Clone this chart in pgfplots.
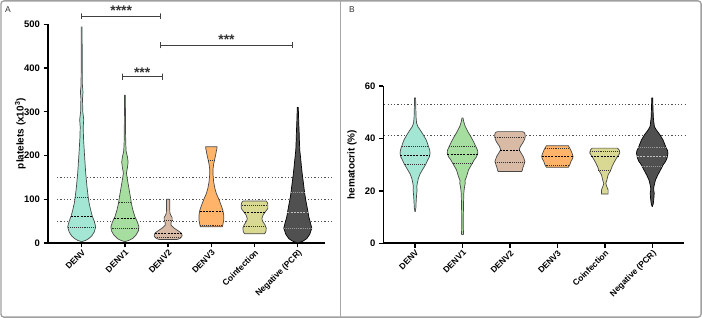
\documentclass[border=0pt]{standalone}
\usepackage{pgfplots}
\pgfplotsset{compat=1.18}
\usepackage{pgfplotstable}
\usepackage{fontspec}
\setmainfont{Liberation Sans}

\definecolor{cDENV}{HTML}{A3E6D3}
\definecolor{cDENVa}{HTML}{A5DE9F}
\definecolor{cDENVb}{HTML}{D9BBA5}
\definecolor{cDENVc}{HTML}{FFB46A}
\definecolor{cCoinf}{HTML}{D9D993}
\definecolor{cNeg}{HTML}{505050}
\definecolor{edge}{HTML}{484848}
\definecolor{framegray}{HTML}{A0A0A0}
\definecolor{refgray}{HTML}{505050}

% violin: {centre}{width factor}{fill}{outline}{profile table (v = value, w = half-width)}
\newcommand{\violin}[5]{%
  \addplot[fill=#3, draw=none] table[x expr={#1+#2*\thisrow{w}}, y=v]{#5};
  \addplot[fill=#3, draw=none] table[x expr={#1-#2*\thisrow{w}}, y=v]{#5};
  \addplot[draw=#3, line width=0.8bp] table[x expr={#1}, y=v]{#5};
  \addplot[draw=#4, line width=0.7bp] table[x expr={#1+#2*\thisrow{w}}, y=v]{#5};
  \addplot[draw=#4, line width=0.7bp] table[x expr={#1-#2*\thisrow{w}}, y=v]{#5};
}

\pgfplotsset{
  violinaxis/.style={
    scale only axis, clip=false, axis lines=left,
    axis line style={-, line width=1.6bp, black},
    tick align=outside, major tick length=4.5bp,
    tick style={line width=1.4bp, black},
    xtick={0,1,2,3,4,5},
    xticklabels={DENV,DENV1,DENV2,DENV3,Coinfection,Negative (PCR)},
    x tick label style={rotate=45, anchor=north east, inner sep=1bp,
      font=\bfseries\fontsize{8.5}{9}\selectfont},
    y tick label style={font=\bfseries\fontsize{9.5}{10}\selectfont},
    /pgf/number format/assume math mode=true,
    ylabel style={font=\bfseries\fontsize{10}{12}\selectfont, anchor=center},
    no markers,
  },
  refline/.style={refgray, line width=1.2bp, dash pattern=on 1.2bp off 2.1bp},
  med/.style={black, line width=0.7bp, dash pattern=on 2bp off 1.2bp},
  qrt/.style={black!80, line width=0.55bp, dash pattern=on 0.8bp off 1.1bp},
  bracket/.style={black!75, line width=0.9bp},
}

% ---------------- platelets (x10^3) ----------------
\pgfplotstableread[row sep=\\]{
v w\\ 3 0\\ 6 4\\ 10 7\\ 16 10\\ 25 12.5\\ 37 14\\ 50 12.5\\ 62 10.5\\ 75 9\\ 90 7.5\\
105 6.5\\ 128 5.3\\ 160 4\\ 205 2.7\\ 240 1.8\\ 265 1.5\\ 282 2.0\\ 300 1.1\\ 330 0.8\\
345 1.3\\ 360 0.7\\ 400 0.5\\ 494 0.4\\ 494 0\\
}\pA

\pgfplotstableread[row sep=\\]{
v w\\ 3 0\\ 6 4\\ 10 7.5\\ 18 11\\ 28 13.5\\ 37 14\\ 48 12.5\\ 60 10\\ 75 8\\ 90 6.5\\
105 5.5\\ 125 4\\ 145 2.5\\ 160 1.5\\ 172 2.5\\ 185 3.2\\ 197 2.5\\ 210 1.2\\ 230 0.8\\
260 0.6\\ 300 0.5\\ 338 0.4\\ 338 0\\
}\pB

\pgfplotstableread[row sep=\\]{
v w\\ 8 0\\ 8 9\\ 10 11.5\\ 14 13.5\\ 18 14\\ 23 13\\ 28 10\\ 34 6\\ 41 2.8\\ 47 3\\
53 4\\ 58 4\\ 63 2.8\\ 68 1.8\\ 75 1.7\\ 90 1.7\\ 100 1.7\\ 100 0\\
}\pC

\pgfplotstableread[row sep=\\]{
v w\\ 37 0\\ 37 11\\ 42 11.5\\ 52 12.3\\ 64 12.3\\ 75 11.5\\ 85 10\\ 100 7.5\\ 113 5\\
125 3.5\\ 140 2.3\\ 155 1.7\\ 170 1.7\\ 180 2.3\\ 190 3.2\\ 200 4.2\\ 210 5\\ 215 5.5\\
220 5.7\\ 220 0\\
}\pD

\pgfplotstableread[row sep=\\]{
v w\\ 21 0\\ 21 10\\ 26 11.3\\ 34 11.7\\ 42 10.3\\ 50 8\\ 56 7.3\\ 64 8.5\\ 72 11\\
79 13.3\\ 88 13.3\\ 93 12.7\\ 96 11.5\\ 96 0\\
}\pE

\pgfplotstableread[row sep=\\]{
v w\\ 0 0\\ 4 5\\ 10 9\\ 20 12\\ 34 14\\ 45 12.8\\ 60 11\\ 80 9.5\\ 98 8\\ 115 6.8\\
136 5.7\\ 155 4.6\\ 174 3.7\\ 195 2.8\\ 212 2\\ 235 1.6\\ 251 1.4\\ 280 0.9\\ 310 0.5\\
310 0\\
}\pF

% ---------------- hematocrit (%) ----------------
\pgfplotstableread[row sep=\\]{
v w\\ 12 0\\ 13.5 0.8\\ 15.3 1.0\\ 18 1.4\\ 20.4 2.0\\ 21.6 1.7\\ 23 2.3\\ 24.8 3.3\\
26.5 5\\ 28 7.3\\ 30 10.5\\ 31.8 12.7\\ 33 14.3\\ 34.4 15\\ 35.5 14.6\\ 36.3 14\\
38 12.5\\ 39.5 11\\ 41.5 8\\ 43.3 5\\ 44.5 2.8\\ 45.9 1.5\\ 48 1\\ 52 0.7\\ 55.4 0.5\\
55.4 0\\
}\hA

\pgfplotstableread[row sep=\\]{
v w\\ 3.2 0\\ 3.5 1\\ 6 0.8\\ 10 0.8\\ 15 1\\ 19.1 1.3\\ 21 1.8\\ 22.9 2.7\\ 24 2.5\\
25.4 4\\ 28 6\\ 30 9\\ 31.8 11.7\\ 33 14\\ 34.4 15.3\\ 35.5 15\\ 36.9 13.3\\ 38.8 11\\
40.7 8.3\\ 42.5 5.5\\ 44.6 2.7\\ 46.3 1.3\\ 47.8 0.5\\ 47.8 0\\
}\hB

\pgfplotstableread[row sep=\\]{
v w\\ 27.4 0\\ 27.4 11.7\\ 28 12.5\\ 28.7 12.8\\ 30 14\\ 31.2 15\\ 33.1 13.3\\ 34.5 11\\
35.7 9.3\\ 37 10.5\\ 38.2 12.7\\ 39.5 14.5\\ 40.7 15.3\\ 41.8 15\\ 42.4 14\\ 42.6 12\\
42.6 0\\
}\hC

\pgfplotstableread[row sep=\\]{
v w\\ 29 0\\ 29 11\\ 30 12.5\\ 31.2 13.5\\ 32.2 15\\ 33.1 15.7\\ 34 15\\ 35 14\\
36.2 12.5\\ 37.2 11\\ 37.2 0\\
}\hD

\pgfplotstableread[row sep=\\]{
v w\\ 18.8 0\\ 18.8 3.3\\ 20.4 3.3\\ 21.8 1.8\\ 22.9 1\\ 24 2\\ 26.1 3.3\\ 27.5 5.5\\
29.3 7.3\\ 31 9.5\\ 32.5 11.7\\ 33.5 13.5\\ 34.4 15\\ 35.5 14.5\\ 36.3 12.7\\ 36.3 0\\
}\hE

\pgfplotstableread[row sep=\\]{
v w\\ 14 0\\ 15 1\\ 17 1.6\\ 19.1 2\\ 20.5 1.4\\ 21.6 1.7\\ 23 2.5\\ 24.2 3.3\\ 26 5.5\\
28 8.3\\ 30 11\\ 31.2 13.3\\ 32.5 14.8\\ 34.4 15.7\\ 35.5 15.2\\ 36.3 14\\ 38 12.3\\
39.5 10.7\\ 41.5 7.5\\ 43.3 4\\ 44.5 2.2\\ 45.9 1.7\\ 48 1.1\\ 52 0.7\\ 55.4 0.5\\
55.4 0\\
}\hF

\begin{document}
\begin{tikzpicture}
\useasboundingbox (0,0) rectangle (702bp,318bp);

% ===== A: platelets =====
\begin{axis}[violinaxis,
  at={(48bp,75bp)}, anchor=south west,
  width=277bp, height=218.7bp,
  xmin=-0.78, xmax=5.63, ymin=0, ymax=500,
  ytick={0,100,200,300,400,500},
  ylabel={platelets (x10\textsuperscript{3})},
  ylabel style={at={(axis description cs:-0.1,0.5)}},
]
\addplot[refline] coordinates {(-0.57,50) (5.82,50)};
\addplot[refline] coordinates {(-0.57,100) (5.82,100)};
\addplot[refline] coordinates {(-0.57,150) (5.82,150)};

\violin{0}{0.02315}{cDENV}{edge}{\pA}
\violin{1}{0.02315}{cDENVa}{edge}{\pB}
\violin{2}{0.02315}{cDENVb}{edge}{\pC}
\violin{3}{0.02315}{cDENVc}{edge}{\pD}
\violin{4}{0.02315}{cCoinf}{edge}{\pE}
\violin{5}{0.02315}{cNeg}{black}{\pF}

% medians and quartiles
\addplot[med] coordinates {(-0.25,60) (0.25,60)};
\addplot[qrt] coordinates {(-0.31,35) (0.31,35)};
\addplot[qrt] coordinates {(-0.15,104) (0.15,104)};
\addplot[med] coordinates {(0.75,56) (1.25,56)};
\addplot[qrt] coordinates {(0.69,33) (1.31,33)};
\addplot[qrt] coordinates {(0.855,93) (1.145,93)};
\addplot[med] coordinates {(1.69,22) (2.31,22)};
\addplot[qrt] coordinates {(1.70,13) (2.30,13)};
\addplot[qrt] coordinates {(1.91,52) (2.09,52)};
\addplot[med] coordinates {(2.73,73) (3.27,73)};
\addplot[qrt] coordinates {(2.74,40) (3.26,40)};
\addplot[qrt] coordinates {(2.93,188) (3.07,188)};
\addplot[med] coordinates {(3.76,70) (4.24,70)};
\addplot[qrt] coordinates {(3.75,39) (4.25,39)};
\addplot[qrt] coordinates {(3.70,87) (4.30,87)};
\addplot[med, white!75!black] coordinates {(4.76,69) (5.24,69)};
\addplot[qrt, white!60!black] coordinates {(4.69,33) (5.31,33)};
\addplot[qrt, white!60!black] coordinates {(4.845,115) (5.155,115)};

% significance brackets
\addplot[bracket] coordinates {(0,511) (0,525) (0,518) (1.83,518) (1.83,525) (1.83,511)};
\addplot[bracket] coordinates {(1.83,445) (1.83,459) (1.83,452) (4.87,452) (4.87,459) (4.87,445)};
\addplot[bracket] coordinates {(0.95,373) (0.95,387) (0.95,380) (1.86,380) (1.86,387) (1.86,373)};
\node[font=\bfseries\fontsize{14}{14}\selectfont, text=black!80] at (axis cs:0.915,530) {****};
\node[font=\bfseries\fontsize{14}{14}\selectfont, text=black!80] at (axis cs:3.35,465) {***};
\node[font=\bfseries\fontsize{14}{14}\selectfont, text=black!80] at (axis cs:1.40,390) {***};
\end{axis}

% ===== B: hematocrit =====
\begin{axis}[violinaxis,
  at={(383.3bp,74.7bp)}, anchor=south west,
  width=300.7bp, height=157.3bp,
  xmin=-0.67, xmax=5.67, ymin=0, ymax=60,
  ytick={0,20,40,60},
  ylabel={hematocrit (\%)},
  ylabel style={at={(axis description cs:-0.104,0.5)}},
]
\addplot[refline] coordinates {(-0.65,53) (5.72,53)};
\addplot[refline] coordinates {(-0.65,41) (5.72,41)};

\violin{0}{0.0211}{cDENV}{edge}{\hA}
\violin{1}{0.0211}{cDENVa}{edge}{\hB}
\violin{2}{0.0211}{cDENVb}{edge}{\hC}
\violin{3}{0.0211}{cDENVc}{edge}{\hD}
\violin{4}{0.0211}{cCoinf}{edge}{\hE}
\violin{5}{0.0211}{cNeg}{black}{\hF}

\addplot[med] coordinates {(-0.31,33.5) (0.31,33.5)};
\addplot[qrt] coordinates {(-0.22,30) (0.22,30)};
\addplot[qrt] coordinates {(-0.28,37) (0.28,37)};
\addplot[med] coordinates {(0.68,34) (1.32,34)};
\addplot[qrt] coordinates {(0.79,30.5) (1.21,30.5)};
\addplot[qrt] coordinates {(0.72,37) (1.28,37)};
\addplot[med] coordinates {(1.79,35.5) (2.21,35.5)};
\addplot[qrt] coordinates {(1.69,31) (2.31,31)};
\addplot[qrt] coordinates {(1.68,40.5) (2.32,40.5)};
\addplot[med] coordinates {(2.67,33) (3.33,33)};
\addplot[qrt] coordinates {(2.75,29.8) (3.25,29.8)};
\addplot[qrt] coordinates {(2.74,36.3) (3.26,36.3)};
\addplot[med] coordinates {(3.71,33) (4.29,33)};
\addplot[qrt] coordinates {(3.86,28) (4.14,28)};
\addplot[qrt] coordinates {(3.69,35) (4.31,35)};
\addplot[med, white!75!black] coordinates {(4.68,33) (5.32,33)};
\addplot[qrt, white!60!black] coordinates {(4.78,29.5) (5.22,29.5)};
\addplot[qrt, white!60!black] coordinates {(4.71,36.5) (5.29,36.5)};
\end{axis}

% panel frame, divider and letters
\draw[framegray, line width=1.3bp, rounded corners=3bp] (0.9bp,0.9bp) rectangle (701.1bp,317.1bp);
\draw[black!35, line width=0.8bp] (340bp,1bp) -- (340bp,317bp);
\node[font=\fontsize{8.5}{9}\selectfont, text=black!80] at (8bp,308bp) {A};
\node[font=\fontsize{8.5}{9}\selectfont, text=black!80] at (352bp,308bp) {B};
\end{tikzpicture}
\end{document}
